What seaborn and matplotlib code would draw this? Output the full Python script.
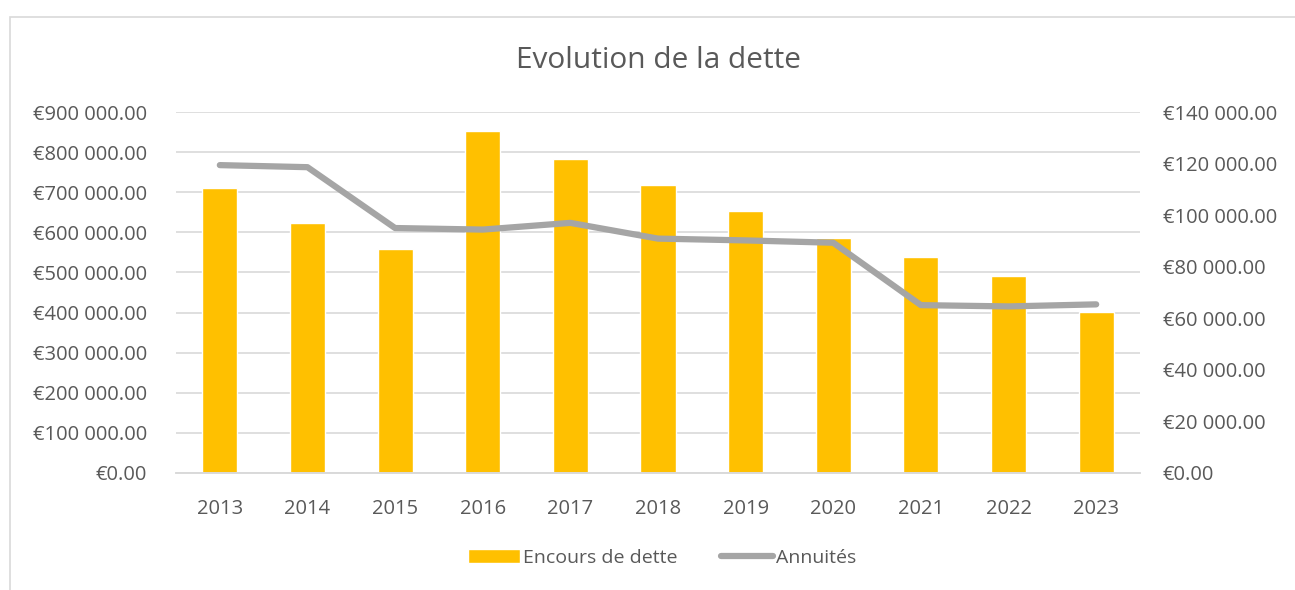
import numpy as np
import pandas as pd
import seaborn as sns
import matplotlib.pyplot as plt
from matplotlib.patches import Rectangle
from matplotlib.ticker import FuncFormatter

years = ["2013", "2014", "2015", "2016", "2017", "2018", "2019", "2020", "2021", "2022", "2023"]
encours = [711000, 624000, 557500, 852000, 782500, 718000, 652500, 585000, 538000, 490000, 402500]
annuites = [119400, 118600, 95000, 94400, 97000, 90900, 90200, 89300, 65100, 64600, 65400]

sns.set_style("white")
plt.rcParams['font.family'] = ['Open Sans', 'DejaVu Sans']
txt = '#595959'

d = pd.DataFrame({'annee': years, 'encours': encours, 'annuites': annuites})

W, H = 1295, 590
fig = plt.figure(figsize=(W / 100, H / 100), dpi=100)
ax = fig.add_axes([176 / W, 1 - 473 / H, (1140 - 176) / W, (473 - 112) / H])

sns.barplot(data=d, x='annee', y='encours', color='#FFC000', saturation=1,
            width=0.4, ax=ax, label='Encours de dette')
ax2 = ax.twinx()
sns.lineplot(x=np.arange(len(years)), y=annuites, color='#A5A5A5', lw=4.5,
             solid_capstyle='round', ax=ax2, label='Annuités', legend=False)
if ax.get_legend() is not None:
    ax.get_legend().remove()

def euro(v, pos):
    s = f"{v:,.2f}".replace(",", " ")
    return "€" + s

ax.set_ylim(0, 900000)
ax.set_yticks(np.arange(0, 900001, 100000))
ax2.set_ylim(0, 140000)
ax2.set_yticks(np.arange(0, 140001, 20000))
ax.yaxis.set_major_formatter(FuncFormatter(euro))
ax2.yaxis.set_major_formatter(FuncFormatter(euro))
ax.set_xlim(-0.5, len(years) - 0.5)

ax.grid(axis='y', color='#D9D9D9', lw=1.2)
ax.set_axisbelow(True)
for a in (ax, ax2):
    for s in ['top', 'left', 'right']:
        a.spines[s].set_visible(False)
    a.spines['bottom'].set_color('#D9D9D9')
    a.spines['bottom'].set_linewidth(1.2)
    a.tick_params(length=0, labelsize=14.5, colors=txt)
ax.tick_params(axis='y', pad=21)
ax.tick_params(axis='x', pad=19)
ax2.tick_params(axis='y', pad=16.5)
ax.set_xlabel('')
ax.set_ylabel('')
ax2.set_ylabel('')

fig.text(658 / W, 1 - 61 / H, 'Evolution de la dette', ha='center', va='center',
         fontsize=21.5, color=txt)

h1, l1 = ax.get_legend_handles_labels()
h2, l2 = ax2.get_legend_handles_labels()
fig.legend(h1 + h2, l1 + l2, loc='center', bbox_to_anchor=(662 / W, 1 - 558 / H),
           ncol=2, frameon=False, fontsize=14, labelcolor=txt, handlelength=2.7,
           handletextpad=0.15, columnspacing=2.2)

fig.patches.append(Rectangle((9.5 / W, -0.1), 1.5, 1.1 - 17.5 / H, transform=fig.transFigure,
                             fill=False, edgecolor='#D9D9D9', lw=1.2))

fig.savefig('out.png', dpi=100)
